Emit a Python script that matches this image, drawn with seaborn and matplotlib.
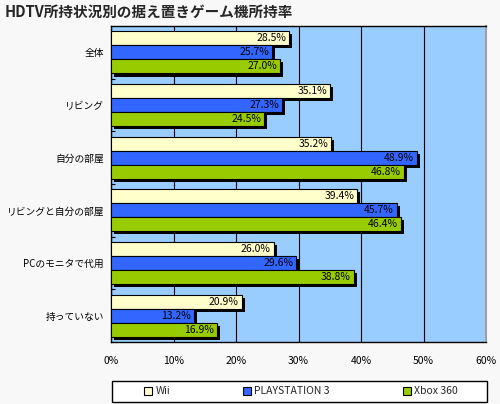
import matplotlib
matplotlib.use("Agg")
import matplotlib.pyplot as plt
import matplotlib.patheffects as pe
from matplotlib.patches import Rectangle
from matplotlib.ticker import MultipleLocator, FuncFormatter
import seaborn as sns
import pandas as pd

categories = ["全体", "リビング", "自分の部屋", "リビングと自分の部屋", "PCのモニタで代用", "持っていない"]
series = ["Wii", "PLAYSTATION 3", "Xbox 360"]
wii = [28.5, 35.1, 35.2, 39.4, 26.0, 20.9]
ps3 = [25.7, 27.3, 48.9, 45.7, 29.6, 13.2]
xbox = [27.0, 24.5, 46.8, 46.4, 38.8, 16.9]
colors = ["#FFFFCC", "#3366FF", "#99CC00"]

rows = []
for s, vals in zip(series, [wii, ps3, xbox]):
    for c, v in zip(categories, vals):
        rows.append({"cat": c, "series": s, "value": v})
df = pd.DataFrame(rows)

sns.set_theme(style="white")
plt.rcParams["font.family"] = ["Noto Sans CJK JP", "DejaVu Sans"]

fig = plt.figure(figsize=(5, 4.04), dpi=100)
fig.patch.set_facecolor("#F8F8F8")
ax = fig.add_axes([0.222, 0.1535, 0.75, 0.782])
ax.set_facecolor("#99CCFF")

sns.barplot(data=df, y="cat", x="value", hue="series", order=categories,
            hue_order=series, palette=colors, orient="h", width=0.8,
            edgecolor="black", linewidth=0.8, saturation=1, ax=ax, legend=False,
            zorder=3)

for cont in ax.containers:
    for p in cont.patches:
        p.set_path_effects([pe.SimplePatchShadow(offset=(2.2, -2.2), shadow_rgbFace="black", alpha=1.0),
                            pe.Normal()])
        w = p.get_width()
        ax.annotate(f"{w:.1f}%", xy=(w, p.get_y() + p.get_height() / 2),
                    xytext=(-2, 0), textcoords="offset points", ha="right", va="center",
                    fontsize=7.5, color="black", zorder=5)

ax.set_xlim(0, 60)
ax.set_ylim(len(categories) - 0.5, -0.5)
ax.xaxis.set_major_locator(MultipleLocator(10))
ax.xaxis.set_major_formatter(FuncFormatter(lambda v, p: f"{v:.0f}%"))
ax.grid(axis="x", color="black", linewidth=0.8, zorder=1)
ax.set_axisbelow(True)
ax.set_xlabel("")
ax.set_ylabel("")
ax.tick_params(axis="x", length=0, pad=10, labelsize=7.5, colors="black")
ax.tick_params(axis="y", which="major", length=0, pad=5, labelsize=7, colors="black")
ax.set_yticks([i + 0.5 for i in range(len(categories) - 1)], minor=True)
ax.tick_params(axis="y", which="minor", direction="in", length=3, width=0.8, color="black", left=True)
for side in ["left", "top", "bottom"]:
    ax.spines[side].set_color("black")
    ax.spines[side].set_linewidth(1)
ax.spines["right"].set_color("#A0A0A0")
ax.spines["right"].set_linewidth(1.5)

fig.text(0.01, 0.97, "HDTV所持状況別の据え置きゲーム機所持率", fontsize=10.5, fontweight="bold",
         va="center", ha="left")

# legend frame spanning plot width
fig.patches.append(Rectangle((0.224, 0.005), 0.75, 0.052, transform=fig.transFigure,
                             facecolor="white", edgecolor="black", linewidth=1, zorder=1))
handles = [plt.Rectangle((0, 0), 1, 1, facecolor=c, edgecolor="black", linewidth=0.8) for c in colors]
leg = fig.legend(handles, series, loc="center", bbox_to_anchor=(0.602, 0.031),
                 ncol=3, fontsize=7.5, frameon=False,
                 handlelength=0.8, handleheight=0.8, handletextpad=0.3, columnspacing=7,
                 borderaxespad=0, borderpad=0)
leg.set_zorder(2)

fig.savefig("out.png", dpi=100, facecolor=fig.get_facecolor())
